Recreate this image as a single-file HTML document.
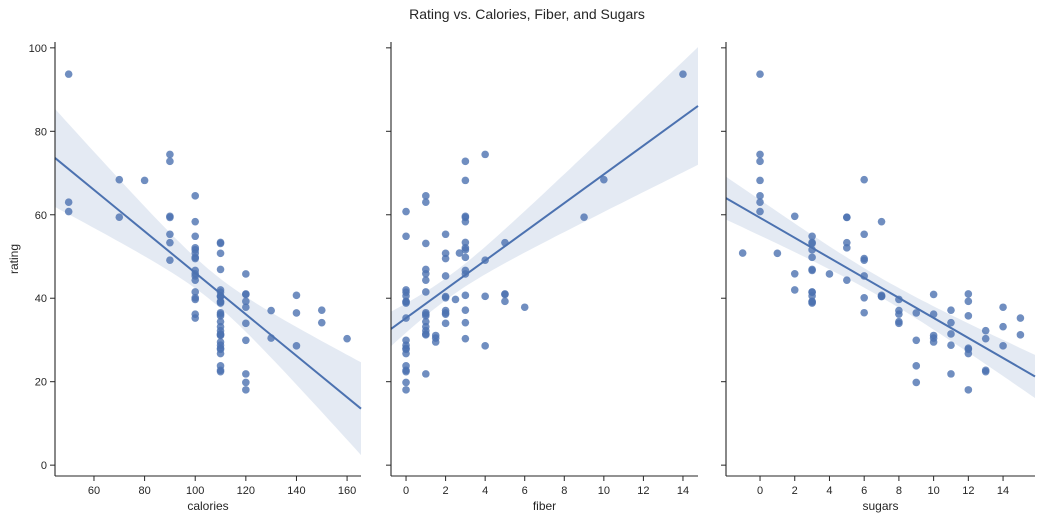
<!DOCTYPE html>
<html><head><meta charset="utf-8"><style>
body{margin:0;background:#fff;}
svg{display:block;font-family:"Liberation Sans","DejaVu Sans",sans-serif;}
</style></head><body>
<svg id="chart" width="1047" height="520">
<text x="527" y="19" text-anchor="middle" font-size="14" fill="#262626">Rating vs. Calories, Fiber, and Sugars</text>
</svg>
<script>
const calories=[70,120,70,50,110,110,110,130,90,90,120,110,120,110,110,110,100,110,110,110,100,110,100,100,110,110,100,120,120,110,100,110,100,110,120,120,110,110,110,140,110,100,110,100,150,150,160,100,120,140,90,130,120,100,50,50,100,100,120,100,90,110,110,80,90,90,110,110,90,110,140,100,110,110,100,100,110];
const fiber=[10,2,9,14,1,1.5,1,2,4,5,0,2,0,2,0,0,1,1,0,4,1,1,2,1,1,1,3,5,5,0,0,0,3,3,3,1,1.5,0,1,2,0,2,0,0,3,3,3,2,0,3,3,1.5,6,1,0,1,2,2.7,5,2.5,2,0,0,3,4,3,1,1,3,0,4,3,0,0,3,3,1];
const sugars=[6,8,5,0,8,10,14,8,6,5,12,1,9,7,13,3,2,12,13,7,0,3,10,5,13,11,7,10,12,12,15,9,5,3,4,11,10,11,6,9,3,6,12,3,11,11,13,6,9,7,2,10,14,3,0,0,6,-1,12,8,6,2,3,0,0,0,15,3,5,3,14,3,3,12,3,3,8];
const rating=[68.40,33.98,59.43,93.70,34.38,29.51,33.17,37.04,49.12,53.31,18.04,50.76,19.82,40.40,22.74,41.45,45.86,35.78,22.40,40.45,64.53,46.90,36.18,44.33,32.21,31.44,58.35,40.92,41.02,28.03,35.25,23.80,52.08,53.37,45.81,21.87,31.07,28.74,36.52,36.47,39.24,45.33,26.73,54.85,37.14,34.14,30.31,40.11,29.92,40.69,59.64,30.45,37.84,41.50,60.76,63.01,49.51,50.83,39.26,39.70,55.33,41.99,40.56,68.24,74.47,72.80,31.23,53.13,59.36,38.84,28.59,46.66,39.11,27.75,49.79,51.59,36.19];
const yTicks=[0,20,40,60,80,100];
const panels=[
 {name:'calories',xs:calories,x0:55,x1:361,lo:44.6,hi:165.5,ticks:[60,80,100,120,140,160],bw:1.5},
 {name:'fiber',xs:fiber,x0:391,x1:698,lo:-0.76,hi:14.76,ticks:[0,2,4,6,8,10,12,14],bw:1.0},
 {name:'sugars',xs:sugars,x0:726,x1:1035,lo:-1.96,hi:15.84,ticks:[0,2,4,6,8,10,12,14],bw:1.1}
];
const Y0=42,Y1=476,ylo=-2.6,yhi=101.4;
const svg=document.getElementById('chart');
const NS='http://www.w3.org/2000/svg';
function mk(tag,attrs,parent){const e=document.createElementNS(NS,tag);for(const k in attrs)e.setAttribute(k,attrs[k]);(parent||svg).appendChild(e);return e;}
const yS=v=>Y1-(v-ylo)/(yhi-ylo)*(Y1-Y0);
panels.forEach((p,pi)=>{
 const xS=v=>p.x0+(v-p.lo)/(p.hi-p.lo)*(p.x1-p.x0);
 const g=mk('g',{});
 
 
 const n=p.xs.length;let mx=0,my=0;for(let i=0;i<n;i++){mx+=p.xs[i];my+=rating[i];}mx/=n;my/=n;
 let sxx=0,sxy=0;for(let i=0;i<n;i++){sxx+=(p.xs[i]-mx)**2;sxy+=(p.xs[i]-mx)*(rating[i]-my);}
 const b=sxy/sxx,a=my-b*mx;let sse=0;for(let i=0;i<n;i++)sse+=(rating[i]-a-b*p.xs[i])**2;
 const s=Math.sqrt(sse/(n-2)),t=1.99*p.bw;
 const up=[],dn=[];
 for(let k=0;k<=60;k++){const x=p.lo+(p.hi-p.lo)*k/60;const f=a+b*x;const se=s*Math.sqrt(1/n+(x-mx)**2/sxx);up.push(xS(x).toFixed(1)+','+yS(f+t*se).toFixed(1));dn.unshift(xS(x).toFixed(1)+','+yS(f-t*se).toFixed(1));}
 const band=mk('polygon',{points:up.concat(dn).join(' '),fill:'#4c72b0','fill-opacity':0.15},g);
 
 
 for(let i=0;i<n;i++){const c=mk('circle',{cx:xS(p.xs[i]),cy:yS(rating[i]),r:3.8,fill:'#4c72b0','fill-opacity':0.8},g);
  
  }
 const ln=mk('line',{x1:xS(p.lo),y1:yS(a+b*p.lo),x2:xS(p.hi),y2:yS(a+b*p.hi),stroke:'#4c72b0','stroke-width':2},g);
 
 
 mk('line',{x1:p.x0,y1:Y0,x2:p.x0,y2:Y1,stroke:'#262626','stroke-width':1.1},g);
 mk('line',{x1:p.x0,y1:Y1,x2:p.x1,y2:Y1,stroke:'#262626','stroke-width':1.1},g);
 p.ticks.forEach(v=>{const x=xS(v);mk('line',{x1:x,y1:Y1,x2:x,y2:Y1+5,stroke:'#262626'},g);
  const tx=mk('text',{x:x,y:Y1+18,'text-anchor':'middle','font-size':11,fill:'#262626'},g);tx.textContent=v;
  
  });
 yTicks.forEach(v=>{const y=yS(v);mk('line',{x1:p.x0-5,y1:y,x2:p.x0,y2:y,stroke:'#262626'},g);
  if(pi===0){const tx=mk('text',{x:p.x0-8,y:y+4,'text-anchor':'end','font-size':11,fill:'#262626'},g);tx.textContent=v;
  
  }});
 const xl=mk('text',{x:(p.x0+p.x1)/2,y:510,'text-anchor':'middle','font-size':12,fill:'#262626'},g);xl.textContent=p.name;
 
 
});
const yl=mk('text',{x:18,y:259,'text-anchor':'middle','font-size':12,fill:'#262626',transform:'rotate(-90 18 259)'});
yl.textContent='rating';


</script>
</body></html>
